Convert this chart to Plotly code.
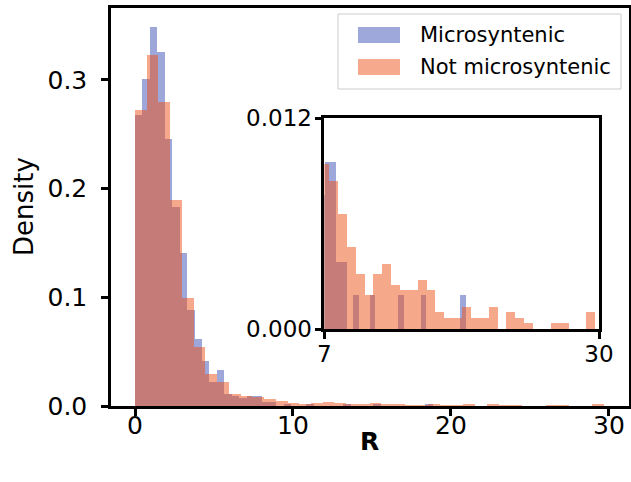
import numpy as np
import plotly.graph_objects as go

# ---------------- data (histogram densities, 40 bins each) ----------------
blue_name = "Microsyntenic"
orange_name = "Not microsyntenic"
blue_min, blue_max = 0.0, 18.85
orange_min, orange_max = 0.0, 29.70
n_bins = 40

blue_density = [0.268, 0.301, 0.349, 0.326, 0.246, 0.183, 0.141, 0.088, 0.0617, 0.041,
                0.022, 0.033, 0.0114, 0.0095, 0.0076, 0.0095, 0.0095, 0.0038, 0.0038, 0.0,
                0.0019, 0.0, 0.0, 0.0019, 0.0, 0.0, 0.0, 0.0, 0.0019, 0.0,
                0.0, 0.0, 0.0019, 0.0, 0.0, 0.0, 0.0, 0.0, 0.0, 0.0019]
orange_density = [0.272, 0.323, 0.280, 0.190, 0.099, 0.054, 0.029, 0.022, 0.011, 0.0094,
                  0.0084, 0.00655, 0.00465, 0.0031, 0.0019, 0.0031, 0.0037, 0.0025, 0.0022, 0.0022,
                  0.0028, 0.0022, 0.00095, 0.00063, 0.00063, 0.00125, 0.00063, 0.00063, 0.00125, 0.0,
                  0.00095, 0.00063, 0.00031, 0.0, 0.0, 0.00031, 0.00031, 0.0, 0.0, 0.00095]

main_xticks = [0, 10, 20, 30]
main_yticks = [0.0, 0.1, 0.2, 0.3]
inset_xticks = [7, 30]
inset_yticks = [0.0, 0.012]

# ---------------- styling ----------------
W, H = 631, 482
FONT = "DejaVu Sans"
BLUE = "rgb(63,81,181)"
ORANGE = "rgb(237,83,25)"
ALPHA = 0.5

wb = (blue_max - blue_min) / n_bins
wo = (orange_max - orange_min) / n_bins
xb = blue_min + wb * (np.arange(n_bins) + 0.5)
xo = orange_min + wo * (np.arange(n_bins) + 0.5)

def px(x):
    return x / W

def py(y):
    return 1 - y / H

fig = go.Figure()
for xa, ya in (("x", "y"), ("x2", "y2")):
    fig.add_trace(go.Bar(x=xb, y=blue_density, width=wb, marker=dict(color=BLUE, line=dict(width=0)),
                         opacity=ALPHA, name=blue_name, showlegend=False, xaxis=xa, yaxis=ya))
    fig.add_trace(go.Bar(x=xo, y=orange_density, width=wo, marker=dict(color=ORANGE, line=dict(width=0)),
                         opacity=ALPHA, name=orange_name, showlegend=False, xaxis=xa, yaxis=ya))

axis_common = dict(showline=True, linecolor="black", linewidth=2.5, mirror=True,
                   ticks="outside", ticklen=7, tickwidth=2.5, tickcolor="black",
                   showgrid=False, zeroline=False, automargin=False)

fig.update_layout(
    width=W, height=H,
    margin=dict(l=0, r=0, t=0, b=0),
    paper_bgcolor="white", plot_bgcolor="white",
    barmode="overlay", bargap=0,
    showlegend=False,
    font=dict(family=FONT, color="black"),
    xaxis=dict(domain=[px(111), px(629)], range=[-1.52, 31.27], tickvals=main_xticks,
               tickfont=dict(size=25), ticklabelstandoff=-12, anchor="y", **axis_common),
    yaxis=dict(domain=[py(406), py(8)], range=[0, 0.3662], tickvals=main_yticks, tickformat=".1f",
               tickfont=dict(size=25), ticklabelstandoff=9, anchor="x", **axis_common),
    xaxis2=dict(domain=[px(324.3), px(599)], range=[7, 30], tickvals=inset_xticks,
                tickfont=dict(size=23), ticklabelstandoff=-4, anchor="y2", **axis_common),
    yaxis2=dict(domain=[py(329), py(118.3)], range=[0, 0.012], tickvals=inset_yticks, tickformat=".3f",
                tickfont=dict(size=23), ticklabelstandoff=-2, anchor="x2", **axis_common),
)

# axis titles
fig.add_annotation(x=px(24), y=py(207), xref="paper", yref="paper", text="Density", textangle=-90,
                   showarrow=False, font=dict(size=26, family=FONT), xanchor="center", yanchor="middle")
fig.add_annotation(x=px(369), y=py(441), xref="paper", yref="paper", text="<b>R</b>",
                   showarrow=False, font=dict(size=25, family=FONT), xanchor="center", yanchor="middle")

# legend (drawn manually to match patch shapes)
fig.add_shape(type="rect", xref="paper", yref="paper", x0=px(338), x1=px(621), y0=py(89), y1=py(14),
              line=dict(color="rgb(204,204,204)", width=1), fillcolor="rgba(255,255,255,0.8)")
legend_items = [(blue_name, BLUE, 35), (orange_name, ORANGE, 67)]
for name, col, yc in legend_items:
    fig.add_shape(type="rect", xref="paper", yref="paper", x0=px(358), x1=px(400),
                  y0=py(yc + 8), y1=py(yc - 8), line=dict(width=0), fillcolor=col, opacity=ALPHA)
    fig.add_annotation(x=px(418), y=py(yc), xref="paper", yref="paper", text=name, showarrow=False,
                       font=dict(size=21, family=FONT), xanchor="left", yanchor="middle")

fig.write_html("out.html")
